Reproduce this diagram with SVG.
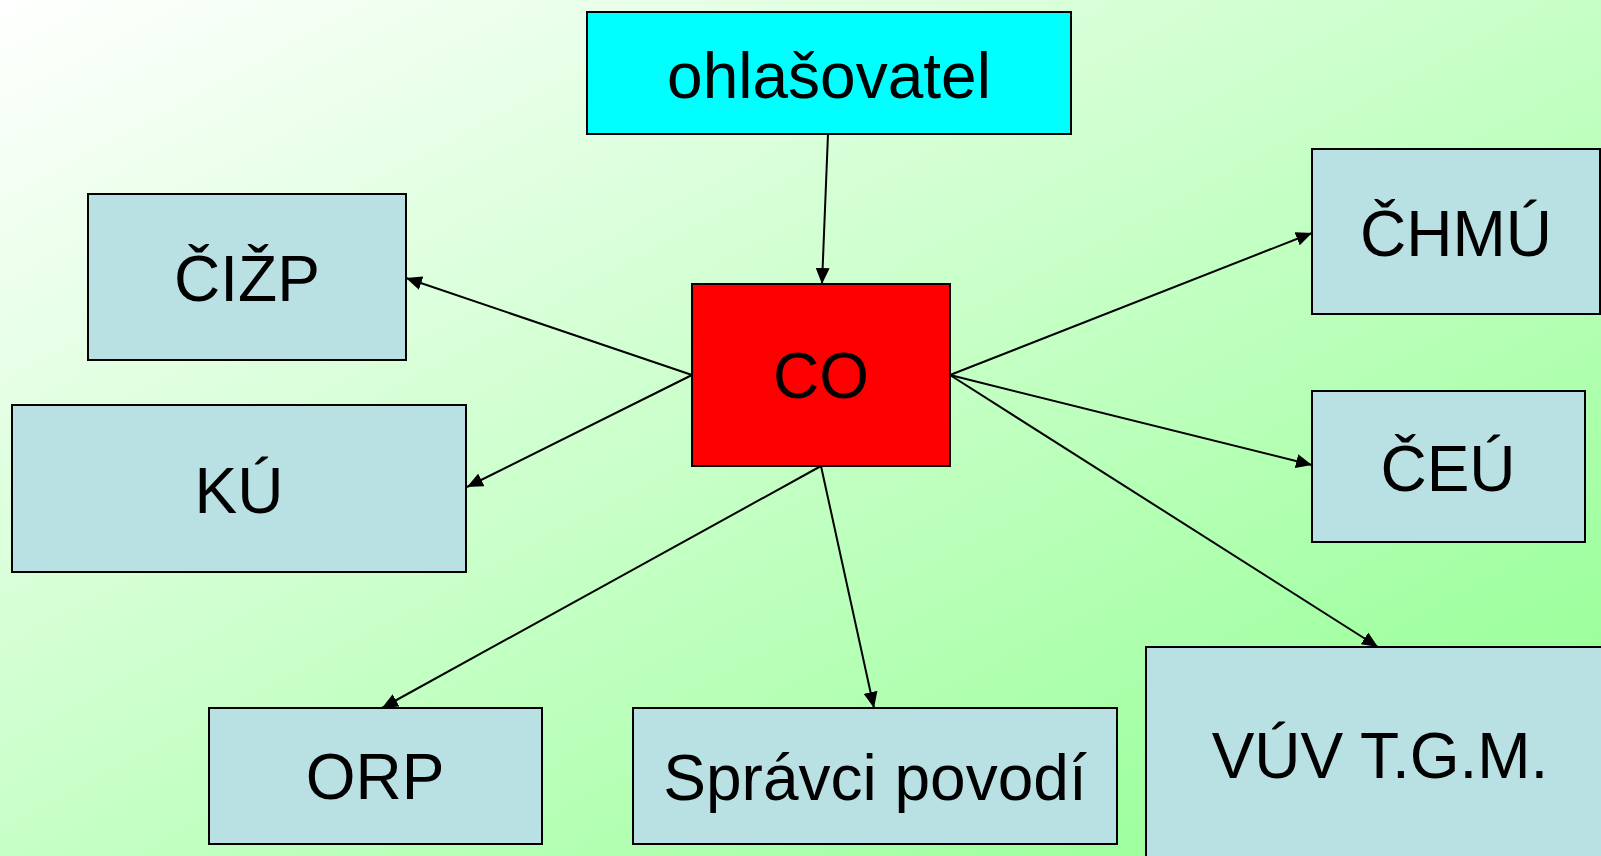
<svg xmlns="http://www.w3.org/2000/svg" width="1601" height="856" viewBox="0 0 1601 856">
<style>
.box{fill:#b9e0e3;stroke:#000;stroke-width:2}
.lbl{font-family:"Liberation Sans",Arial,sans-serif;font-size:64px;fill:#000;text-anchor:middle}
.con{stroke:#000;stroke-width:2;fill:none;marker-end:url(#ah)}
</style>
<defs>
<linearGradient id="bg" x1="0" y1="0" x2="1" y2="1">
<stop offset="0" stop-color="#ffffff"/>
<stop offset="1" stop-color="#8eff8e"/>
</linearGradient>
<marker id="ah" markerUnits="userSpaceOnUse" markerWidth="16" markerHeight="14" refX="16" refY="7" orient="auto">
<path d="M0,0 L16,7 L0,14 z" fill="#000"/>
</marker>
</defs>
<rect x="0" y="0" width="1601" height="856" fill="url(#bg)"/>
<g id="connectors">
<line class="con" x1="828" y1="134" x2="822" y2="284"/>
<line class="con" x1="692" y1="375" x2="406" y2="278"/>
<line class="con" x1="692" y1="375" x2="467" y2="487"/>
<line class="con" x1="821" y1="466" x2="382" y2="708"/>
<line class="con" x1="821" y1="466" x2="874" y2="708"/>
<line class="con" x1="950" y1="375" x2="1312" y2="233"/>
<line class="con" x1="950" y1="375" x2="1312" y2="465"/>
<line class="con" x1="950" y1="375" x2="1378" y2="647"/>
</g>
<g id="ohlasovatel">
<rect x="587" y="12" width="484" height="122" fill="#00ffff" stroke="#000" stroke-width="2"/>
<text class="lbl" x="829" y="98">ohlašovatel</text>
</g>
<g id="CO">
<rect x="692" y="284" width="258" height="182" fill="#ff0000" stroke="#000" stroke-width="2"/>
<text class="lbl" x="821" y="398">CO</text>
</g>
<g id="CIZP">
<rect class="box" x="88" y="194" width="318" height="166"/>
<text class="lbl" x="247" y="301">ČIŽP</text>
</g>
<g id="KU">
<rect class="box" x="12" y="405" width="454" height="167"/>
<text class="lbl" x="239" y="513">KÚ</text>
</g>
<g id="CHMU">
<rect class="box" x="1312" y="149" width="288" height="165"/>
<text class="lbl" x="1456" y="256">ČHMÚ</text>
</g>
<g id="CEU">
<rect class="box" x="1312" y="391" width="273" height="151"/>
<text class="lbl" x="1448" y="491">ČEÚ</text>
</g>
<g id="VUV">
<rect class="box" x="1146" y="647" width="470" height="230"/>
<text class="lbl" x="1380" y="778">VÚV T.G.M.</text>
</g>
<g id="ORP">
<rect class="box" x="209" y="708" width="333" height="136"/>
<text class="lbl" x="375" y="799">ORP</text>
</g>
<g id="Spravci">
<rect class="box" x="633" y="708" width="484" height="136"/>
<text class="lbl" x="875" y="800">Správci povodí</text>
</g>
</svg>
